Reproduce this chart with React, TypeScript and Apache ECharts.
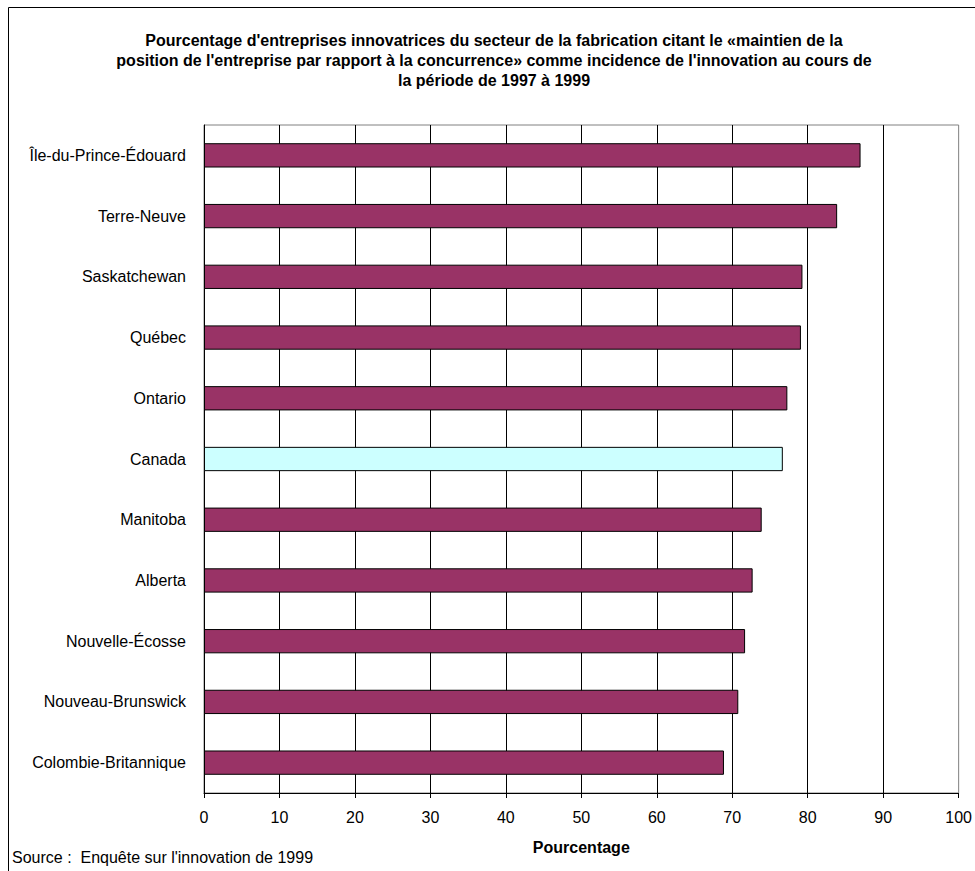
import React, { useEffect, useRef } from "react";
import * as echarts from "echarts";

const TITLE_LINES = [
  "Pourcentage d'entreprises innovatrices du secteur de la fabrication citant le «maintien de la",
  "position de l'entreprise par rapport à la concurrence» comme incidence de l'innovation au cours de",
  "la période de 1997 à 1999",
];
const categories = [
  "Île-du-Prince-Édouard",
  "Terre-Neuve",
  "Saskatchewan",
  "Québec",
  "Ontario",
  "Canada",
  "Manitoba",
  "Alberta",
  "Nouvelle-Écosse",
  "Nouveau-Brunswick",
  "Colombie-Britannique",
];
const values = [87.0, 83.9, 79.3, 79.1, 77.3, 76.7, 73.9, 72.7, 71.7, 70.8, 68.9];
const highlighted = "Canada";
const xTicks = { min: 0, max: 100, interval: 10 };
const xAxisName = "Pourcentage";
const sourceText = "Source :  Enquête sur l'innovation de 1999";

const FONT = "'Liberation Sans', Arial, sans-serif";
const BAR = "#993366";
const BAR_HI = "#CCFFFF";

export default function App() {
  const ref = useRef<HTMLDivElement>(null);
  useEffect(() => {
    if (!ref.current) return;
    const chart = echarts.init(ref.current, null, { renderer: "svg" });
    chart.setOption({
      animation: false,
      backgroundColor: "#ffffff",
      textStyle: { fontFamily: FONT },
      title: {
        text: TITLE_LINES.join("\n"),
        left: 494,
        top: 30,
        textAlign: "center",
        padding: 0,
        textStyle: {
          fontFamily: FONT,
          fontSize: 16,
          fontWeight: "bold",
          color: "#000",
          lineHeight: 20,
        },
      },
      grid: {
        left: 204,
        top: 125,
        right: 16.3,
        bottom: 78,
        show: true,
        borderColor: "#808080",
        borderWidth: 1,
        backgroundColor: "#ffffff",
      },
      xAxis: {
        type: "value",
        min: xTicks.min,
        max: xTicks.max,
        interval: xTicks.interval,
        name: xAxisName,
        nameLocation: "middle",
        nameGap: 46,
        nameTextStyle: { fontFamily: FONT, fontSize: 16, fontWeight: "bold", color: "#000" },
        axisLine: { show: true, lineStyle: { color: "#000", width: 1 } },
        axisTick: { show: true, length: 5, lineStyle: { color: "#000" } },
        axisLabel: { fontFamily: FONT, fontSize: 16, color: "#000", margin: 16 },
        splitLine: { show: true, showMinLine: false, showMaxLine: false, lineStyle: { color: "#000", width: 1 } },
      },
      yAxis: {
        type: "category",
        data: categories,
        inverse: true,
        axisLine: { show: true, onZero: false, lineStyle: { color: "#000", width: 1 } },
        axisTick: { show: false },
        axisLabel: { fontFamily: FONT, fontSize: 16, color: "#000", margin: 18 },
        splitLine: { show: false },
      },
      series: [
        {
          type: "bar",
          barCategoryGap: "60%",
          data: values.map((v, i) => ({
            value: v,
            itemStyle: {
              color: categories[i] === highlighted ? BAR_HI : BAR,
              borderColor: "#000",
              borderWidth: 1,
            },
          })),
        },
      ],
      graphic: [
        {
          type: "rect",
          shape: { x: 8.5, y: 7.5, width: 1200, height: 1200 },
          style: { fill: "none", stroke: "#000", lineWidth: 1 },
          silent: true,
          z: 100,
        },
        {
          type: "text",
          left: 12,
          top: 849,
          style: { text: sourceText, font: `16px ${FONT}`, fill: "#000" },
        },
      ],
    });
    return () => chart.dispose();
  }, []);
  return (
    <div
      ref={ref}
      style={{ position: "fixed", left: 0, top: 0, width: 975, height: 871 }}
    />
  );
}
